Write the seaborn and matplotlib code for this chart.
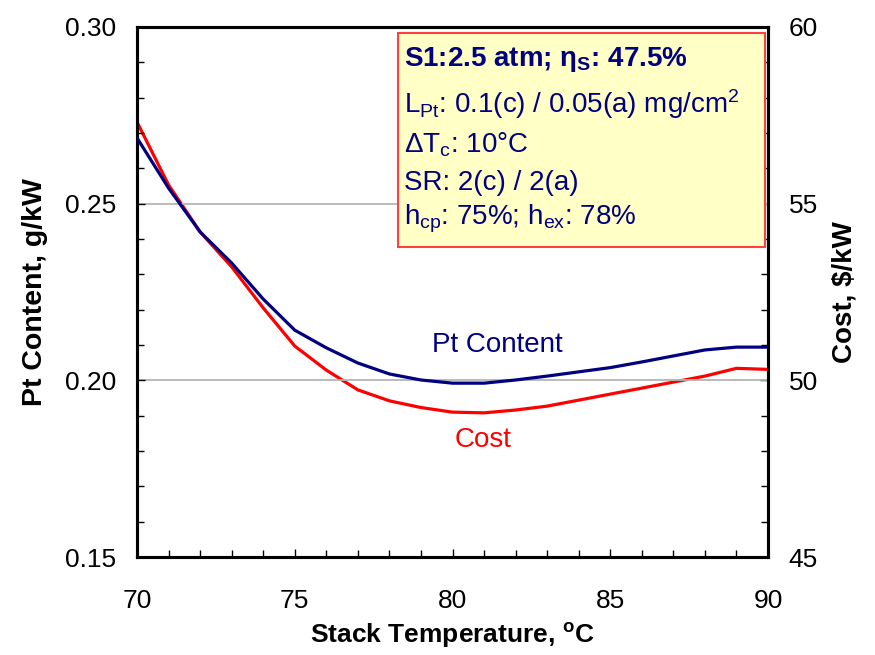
import matplotlib
matplotlib.use("Agg")
import matplotlib.pyplot as plt
from matplotlib.ticker import MultipleLocator, FormatStrFormatter
import pandas as pd
import seaborn as sns

# Stack temperature sweep (deg C)
temperature = [70, 71, 72, 73, 74, 75, 76, 77, 78, 79, 80,
               81, 82, 83, 84, 85, 86, 87, 88, 89, 90]
# Platinum content, g/kW
pt_content = [0.2686, 0.2544, 0.2420, 0.2332, 0.2230, 0.2142, 0.2092,
              0.2049, 0.2018, 0.2001, 0.1992, 0.1992, 0.2001, 0.2012,
              0.2024, 0.2036, 0.2052, 0.2069, 0.2086, 0.2094, 0.2094]
# Stack cost, $/kW
cost = [57.31, 55.53, 54.20, 53.21, 52.05, 50.97, 50.29, 49.73, 49.42,
        49.23, 49.10, 49.08, 49.16, 49.27, 49.44, 49.61, 49.78, 49.95,
        50.12, 50.34, 50.31]

df = pd.DataFrame({"T": temperature, "Pt": pt_content, "Cost": cost})

sns.set_theme(style="white")
plt.rcParams["font.family"] = ["Liberation Sans", "DejaVu Sans"]
plt.rcParams["mathtext.fontset"] = "custom"
plt.rcParams["mathtext.rm"] = "Liberation Sans"
plt.rcParams["mathtext.it"] = "Liberation Sans:italic"
plt.rcParams["mathtext.bf"] = "Liberation Sans:bold"
for key in ("text.color", "axes.labelcolor", "xtick.color", "ytick.color"):
    plt.rcParams[key] = "black"

navy = "#000080"
red = "#FF0000"

fig = plt.figure(figsize=(8.75, 6.55), dpi=100)
ax = fig.add_axes([0.1566, 0.1496, 0.8777 - 0.1566, 0.9588 - 0.1496])
ax2 = ax.twinx()

# reference gridlines
for yv in (0.20, 0.25):
    ax.axhline(yv, color="#b4b4b4", lw=1.3, zorder=0)

sns.lineplot(data=df, x="T", y="Pt", ax=ax, color=navy, lw=2.3, zorder=3)
sns.lineplot(data=df, x="T", y="Cost", ax=ax2, color=red, lw=2.3, zorder=3)
ax.set_zorder(ax2.get_zorder() + 1)
ax.patch.set_visible(False)

ax.set_xlim(70, 90)
ax.set_ylim(0.15, 0.30)
ax2.set_ylim(45, 60)

ax.xaxis.set_major_locator(MultipleLocator(5))
ax.xaxis.set_minor_locator(MultipleLocator(1))
ax.yaxis.set_major_locator(MultipleLocator(0.05))
ax.yaxis.set_minor_locator(MultipleLocator(0.01))
ax2.yaxis.set_major_locator(MultipleLocator(5))
ax2.yaxis.set_minor_locator(MultipleLocator(1))
ax.yaxis.set_major_formatter(FormatStrFormatter("%.2f"))

for a in (ax, ax2):
    for s in a.spines.values():
        s.set_color("black")
        s.set_linewidth(2.2)

tick_fs = 19
ax.tick_params(axis="x", which="both", direction="in", top=False, bottom=True,
               labelsize=tick_fs, pad=23, color="black", labelcolor="black")
ax.tick_params(axis="x", which="major", length=6, width=1)
ax.tick_params(axis="x", which="minor", length=5, width=1)
ax.tick_params(axis="y", which="both", direction="in", left=True, right=False,
               labelsize=tick_fs, pad=15, color="black", labelcolor="black")
ax.tick_params(axis="y", which="major", length=6, width=1)
ax.tick_params(axis="y", which="minor", length=5, width=1)
ax2.tick_params(axis="y", which="both", direction="in", right=True, left=False,
                labelsize=tick_fs, pad=15, color="black", labelcolor="black")
ax2.tick_params(axis="y", which="major", length=6, width=1)
ax2.tick_params(axis="y", which="minor", length=5, width=1)

ax.set_xlabel(r"Stack Temperature, $^\mathregular{o}$C", fontsize=19,
              fontweight="bold", labelpad=6, color="black")
ax.set_ylabel("Pt Content, g/kW", fontsize=20.5, fontweight="bold",
              labelpad=12, color="black")
ax2.set_ylabel(r"Cost, \$/kW", fontsize=20, fontweight="bold", labelpad=10,
               color="black")

fig.text(497 / 875, 1 - 345 / 655, "Pt Content", color=navy, fontsize=20,
         ha="center", va="center")
fig.text(483 / 875, 1 - 440 / 655, "Cost", color=red, fontsize=20,
         ha="center", va="center")

# operating conditions box
bx0, by0, bx1, by1 = 398 / 875, 1 - 247 / 655, 765 / 875, 1 - 33 / 655
box = plt.Rectangle((bx0, by0), bx1 - bx0, by1 - by0, transform=fig.transFigure,
                    facecolor="#FFFFC6", edgecolor="#FF4040", lw=1.5, zorder=5)
fig.patches.append(box)

lines = [
    (r"S1:2.5 atm; $\mathbf{\eta}_\mathbf{S}$: 47.5%", True),
    (r"L$_\mathregular{Pt}$: 0.1(c) / 0.05(a) mg/cm$^\mathregular{2}$", False),
    (r"$\Delta$T$_\mathregular{c}$: 10°C", False),
    (r"SR: 2(c) / 2(a)", False),
    (r"h$_\mathregular{cp}$: 75%; h$_\mathregular{ex}$: 78%", False),
]
ys = [60, 104, 145, 183, 219]
for (txt, bold), yp in zip(lines, ys):
    fig.text(404 / 875, 1 - yp / 655, txt, color=navy, fontsize=20,
             fontweight="bold" if bold else "normal", ha="left", va="center",
             zorder=6)

fig.savefig("out.png", dpi=100)
